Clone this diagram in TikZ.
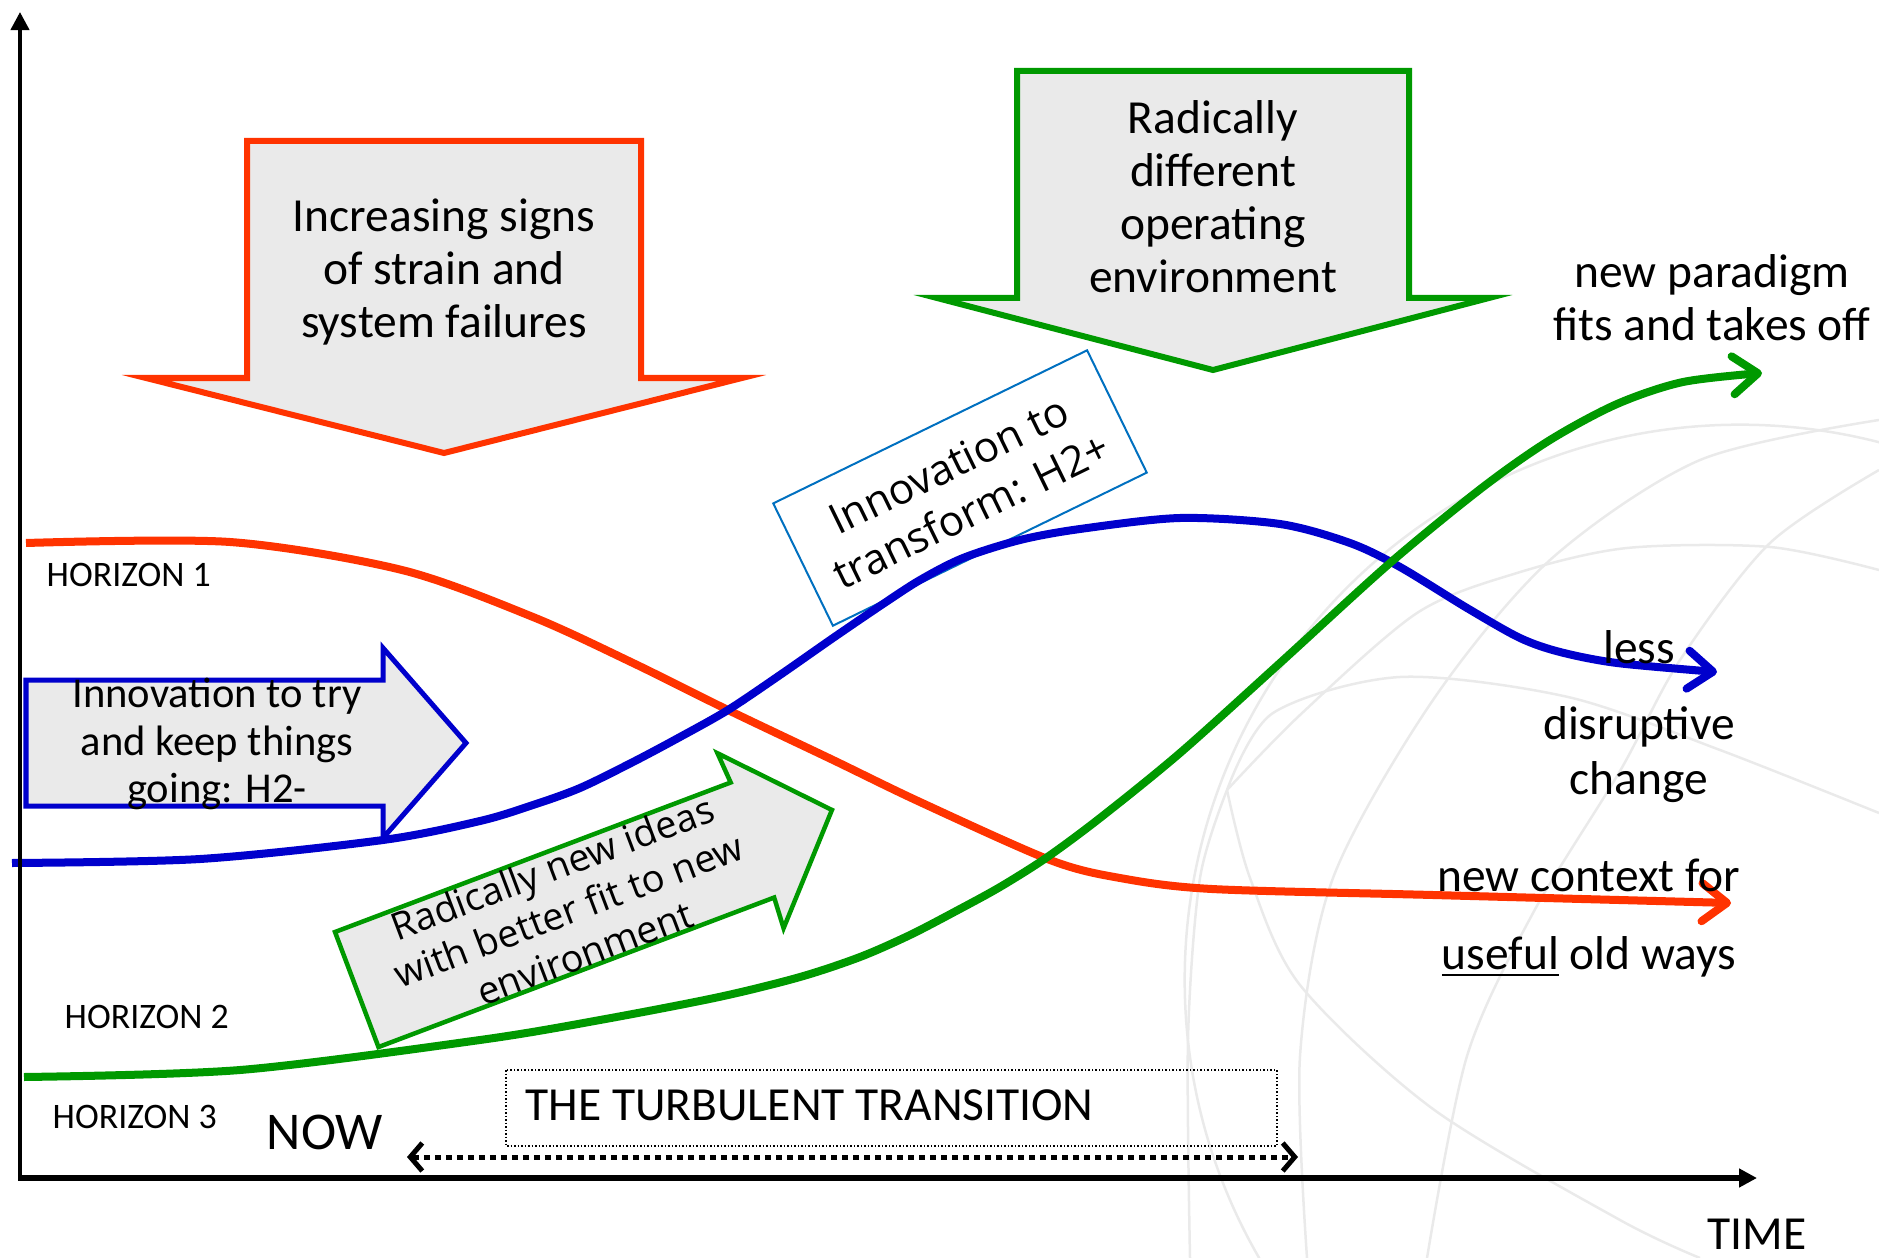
\documentclass[tikz,border=0pt]{standalone}
\usepackage{fontspec}
\setmainfont{Carlito}
\newfontfamily\opensans{Open Sans}
\usetikzlibrary{arrows.meta}
\definecolor{hred}{RGB}{255,51,0}
\definecolor{hblue}{RGB}{0,0,204}
\definecolor{hgreen}{RGB}{0,153,0}
\definecolor{boxblue}{RGB}{0,112,192}
\definecolor{panel}{RGB}{234,234,234}
\definecolor{globeline}{RGB}{234,234,234}
\tikzset{
  horizon/.style={line width=0.08cm,-{Straight Barb[length=0.25cm,width=0.38cm,round]}},
  blockarrow/.style={fill=panel,line width=0.06cm},
  bigtext/.style={font=\fontsize{13.5pt}{15.1pt}\selectfont,align=center,inner sep=0pt},
  smalltext/.style={font=\fontsize{10.2pt}{12pt}\selectfont,inner sep=0pt,anchor=west},
  globearc/.style={globeline,line width=0.025cm},
}
\begin{document}
\begin{tikzpicture}[x=0.01cm,y=-0.01cm]
\useasboundingbox (0,0) rectangle (1879,1258);
% faint globe behind everything
\begin{scope}
\clip (0,0) rectangle (1879,1258);
\draw[globearc] (1740,980) circle [radius=5.55cm];
\draw[globearc] plot[smooth] coordinates {(1227,790) (1273,713) (1400,677) (1568,697) (1720,750) (1879,813)};
\draw[globearc] plot[smooth] coordinates {(1227,790) (1250,878) (1300,985) (1433,1109) (1620,1220) (1700,1258)};
\draw[globearc] plot[smooth] coordinates {(1227,790) (1200,878) (1188,1038) (1190,1258)};
\draw[globearc] plot[smooth] coordinates {(1307,1258) (1300,1056) (1333,878) (1433,700) (1550,560) (1700,460) (1879,420)};
\draw[globearc] plot[smooth] coordinates {(1427,1258) (1467,1056) (1533,913) (1620,771) (1680,660) (1770,543) (1879,470)};
\draw[globearc] plot[smooth] coordinates {(1227,790) (1300,715) (1417,613) (1517,573) (1627,548) (1770,547) (1879,570)};
\end{scope}

% falling arrows from above
\draw[blockarrow,draw=hred] (247,141) -- (641,141) -- (641,378) -- (742,378) -- (444,453) -- (146,378) -- (247,378) -- cycle;
\node[bigtext] (strain) at (444,272) {Increasing signs\\of strain and\\system failures};
\draw[blockarrow,draw=hgreen] (1017,71) -- (1409,71) -- (1409,298) -- (1489,298) -- (1213,370) -- (937,298) -- (1017,298) -- cycle;
\node[bigtext] (environment) at (1213,197) {Radically\\different\\operating\\environment};

% H2- arrow
\draw[blockarrow,draw=hblue,line width=0.05cm] (26,680) -- (383,680) -- (383,648) -- (466,743) -- (383,838) -- (383,806) -- (26,806) -- cycle;
\node[bigtext,font=\fontsize{12.1pt}{13.4pt}\selectfont] (keepgoing) at (217,744) {Innovation to try\\and keep things\\going: H2-};

% H2+ box
\node[draw=boxblue,line width=0.02cm,fill=white,rotate=26,minimum width=3.49cm,minimum height=1.36cm,align=center,font=\opensans\fontsize{12pt}{14.5pt}\selectfont] (transform) at (960,488) {Innovation to\\transform: H2+};

% H3 arrow
\begin{scope}[shift={(335,932)},rotate=20.7]
\draw[blockarrow,draw=hgreen,line width=0.045cm] (0,0) -- (423,0) -- (421,-32) -- (508,61.5) -- (421,155) -- (423,123) -- (0,123) -- cycle;
\node[rotate=20.7,align=center,inner sep=0pt,font=\opensans\fontsize{10.8pt}{13pt}\selectfont] (newideas) at (226,62) {Radically new ideas\\with better fit to new\\environment};
\end{scope}

% the three horizons
\draw[horizon,hred] plot[smooth] coordinates {(26,543) (230,542) (402,570) (533,617) (633,663) (728,710) (833,760) (920,802) (1050,860) (1120,878) (1212,889) (1433,895) (1731,903)};
\draw[horizon,hblue] plot[smooth] coordinates {(12,863) (200,859) (383,840) (480,821) (533,805) (580,788) (633,762) (680,737) (728,710) (780,675) (833,638) (880,606) (920,580) (963,558) (1020,540) (1080,529) (1180,518) (1280,524) (1350,543) (1400,567) (1467,608) (1520,638) (1560,652) (1617,663) (1717,672)};
\draw[horizon,hgreen] plot[smooth] coordinates {(24,1077) (240,1070) (480,1040) (600,1020) (719,997) (800,977) (860,957) (910,935) (958,910) (1000,887) (1046,858) (1100,818) (1180,753) (1280,663) (1390,563) (1483,487) (1550,440) (1617,404) (1683,382) (1762,373)};

% axes
\coordinate (ytop) at (20,12);
\coordinate (xend) at (1757,1178);
\draw[line width=0.04cm,-{Triangle[length=0.18cm,width=0.18cm]}] (20,1180) -- (ytop);
\draw[line width=0.055cm,-{Triangle[length=0.18cm,width=0.18cm]}] (18,1178) -- (xend);

% labels
\node[smalltext] (h1) at (46,575) {HORIZON 1};
\node[smalltext] (h2) at (64,1017) {HORIZON 2};
\node[smalltext] (h3) at (52,1117) {HORIZON 3};
\node[inner sep=0pt,font=\fontsize{15.1pt}{18pt}\selectfont] (now) at (325,1132) {NOW};
\node[bigtext] (time) at (1757,1234) {TIME};
\node[bigtext] (paradigm) at (1712,298) {new paradigm\\fits and takes off};
\node[bigtext] (less) at (1639,647) {less};
\node[bigtext,font=\fontsize{13.5pt}{15.6pt}\selectfont] (disruptive) at (1639,755) {disruptive\\change};
\node[bigtext] (context) at (1589,875) {new context for};
\node[bigtext] (oldways) at (1589,957) {\underline{useful} old ways};

% the transition
\draw[line width=0.012cm,dash pattern=on 0.015cm off 0.02cm] (506,1070) rectangle (1277,1146);
\node[bigtext,anchor=west] (transition) at (525,1105) {THE TURBULENT TRANSITION};
\coordinate (tstart) at (407,1157);
\coordinate (tend) at (1298,1157);
\draw[line width=0.05cm,dash pattern=on 0.06cm off 0.05cm,{Straight Barb[length=0.12cm,width=0.28cm]}-{Straight Barb[length=0.12cm,width=0.28cm]}] (tstart) -- (tend);
\end{tikzpicture}
\end{document}
